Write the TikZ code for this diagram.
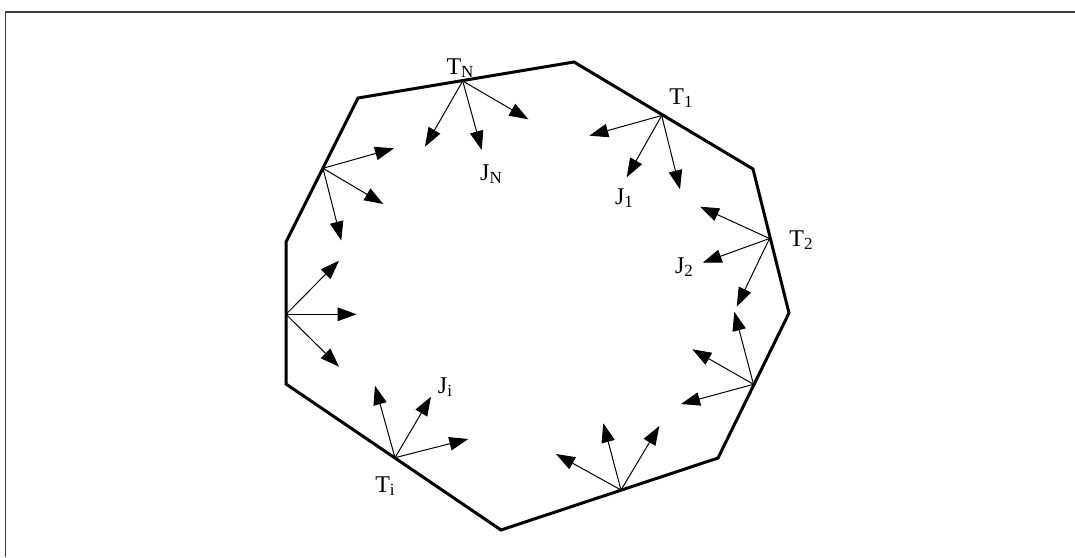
\documentclass[tikz,border=0pt]{standalone}
\usepackage{fontspec}
\setmainfont{Liberation Serif}
\usetikzlibrary{arrows.meta}
\newcommand{\lbl}[2]{#1\raisebox{-3.5pt}{\fontsize{17}{17}\selectfont #2}}
\tikzset{
  wall/.style={line width=3pt, line join=miter},
  vec/.style={line width=1pt, -{Triangle[length=19pt,width=13.5pt]}},
  frameline/.style={line width=1.8pt, draw=black!75},
  labelnode/.style={font=\fontsize{24}{24}\selectfont, inner sep=0pt, anchor=center}
}
\begin{document}
\begin{tikzpicture}[x=1pt,y=-1pt]
\useasboundingbox (0,0) rectangle (1075,557);
% frame
\draw[frameline] (5.5,557) -- (5.5,12) -- (1075,12);
% polygon
\coordinate (V1) at (358,98);
\coordinate (V2) at (574,62);
\coordinate (V3) at (753,169);
\coordinate (V4) at (789,313);
\coordinate (V5) at (718,458);
\coordinate (V6) at (501,530);
\coordinate (V7) at (286,384);
\coordinate (V8) at (286,242);
\draw[wall] (V1) -- (V2) -- (V3) -- (V4) -- (V5) -- (V6) -- (V7) -- (V8) -- cycle;
% boundary points
\coordinate (PN) at (462.7,81);
\coordinate (P1) at (661.7,115.5);
\coordinate (P2) at (769.5,238.5);
\coordinate (PR) at (753.5,384.3);
\coordinate (PB) at (621,490);
\coordinate (Pi) at (395,457.7);
\coordinate (PL) at (286,314.3);
\coordinate (PU) at (323,168.3);
% tips
\coordinate (aN1) at (425,146.7);
\coordinate (aN2) at (481.7,150);
\coordinate (aN3) at (528.3,119.3);
\coordinate (aU1) at (394,148.3);
\coordinate (aU2) at (383.3,204);
\coordinate (aU3) at (341.3,240.5);
\coordinate (a11) at (589.3,135.7);
\coordinate (a12) at (626.7,177.3);
\coordinate (a13) at (680,189.3);
\coordinate (a21) at (700,206.7);
\coordinate (a22) at (702.7,262.7);
\coordinate (a23) at (736.7,306.7);
\coordinate (aR1) at (734.3,311.7);
\coordinate (aR2) at (692.3,349.3);
\coordinate (aR3) at (681,404);
\coordinate (aB1) at (556,454);
\coordinate (aB2) at (603.3,423.3);
\coordinate (aB3) at (659.3,426);
\coordinate (ai1) at (375,385.7);
\coordinate (ai2) at (431,396.7);
\coordinate (ai3) at (468.3,439);
\coordinate (aL1) at (339,260.7);
\coordinate (aL2) at (356.7,314.3);
\coordinate (aL3) at (339,366.7);
\foreach \p/\a in {PN/aN1,PN/aN2,PN/aN3,PU/aU1,PU/aU2,PU/aU3,P1/a11,P1/a12,P1/a13,P2/a21,P2/a22,P2/a23,PR/aR1,PR/aR2,PR/aR3,PB/aB1,PB/aB2,PB/aB3,Pi/ai1,Pi/ai2,Pi/ai3,PL/aL1,PL/aL2,PL/aL3}
  \draw[vec] (\p) -- (\a);
% labels
\node[labelnode] (tN) at (460,68) {\lbl{T}{N}};
\node[labelnode] (jN) at (491,174) {\lbl{J}{N}};
\node[labelnode] (t1) at (681,98) {\lbl{T}{1}};
\node[labelnode] (j1) at (624,198) {\lbl{J}{1}};
\node[labelnode] (t2) at (801,240) {\lbl{T}{2}};
\node[labelnode] (j2) at (684,267) {\lbl{J}{2}};
\node[labelnode] (ji) at (445,387) {\lbl{J}{i}};
\node[labelnode] (ti) at (385,486) {\lbl{T}{i}};
\end{tikzpicture}
\end{document}
